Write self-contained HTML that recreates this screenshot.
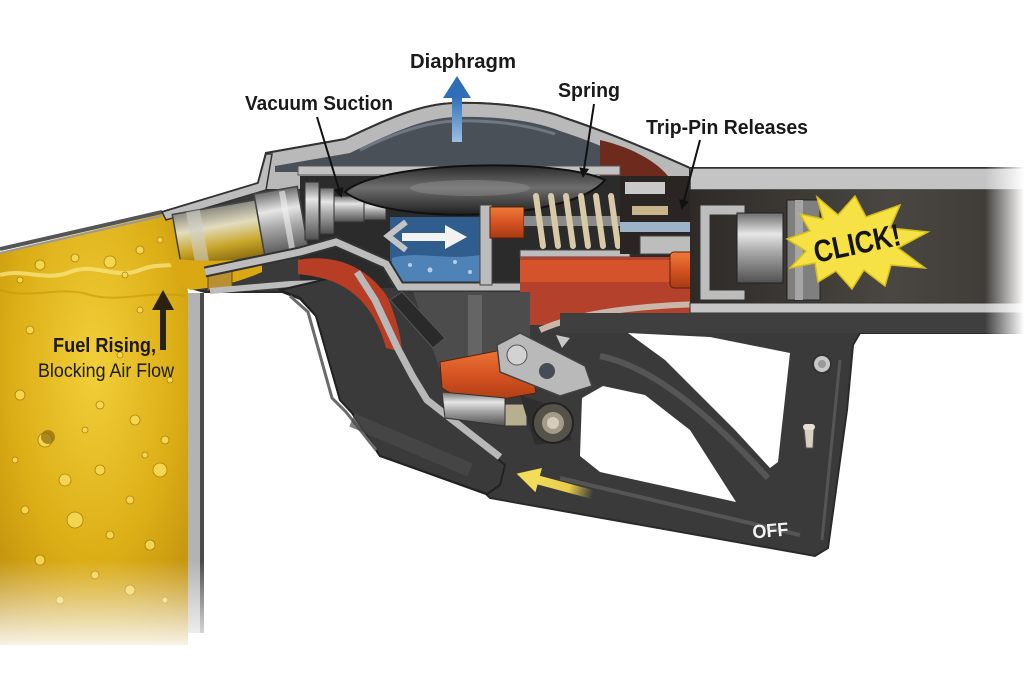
<!DOCTYPE html>
<html><head><meta charset="utf-8">
<style>html,body{margin:0;padding:0;background:#fff;width:1024px;height:683px;overflow:hidden}svg{display:block}</style>
</head><body>
<svg width="1024" height="683" viewBox="0 0 1024 683" xmlns="http://www.w3.org/2000/svg">
<defs>
<radialGradient id="fuelG" cx="0.5" cy="0.35" r="0.8">
<stop offset="0" stop-color="#f2cf3a"/><stop offset="0.55" stop-color="#dcae16"/><stop offset="1" stop-color="#b8880a"/>
</radialGradient>
<linearGradient id="fadeB" x1="0" y1="0" x2="0" y2="1">
<stop offset="0" stop-color="#fff" stop-opacity="0"/><stop offset="1" stop-color="#fff" stop-opacity="1"/>
</linearGradient>
<linearGradient id="fadeR" x1="0" y1="0" x2="1" y2="0">
<stop offset="0" stop-color="#fff" stop-opacity="0"/><stop offset="1" stop-color="#fff" stop-opacity="1"/>
</linearGradient>
<linearGradient id="silverV" x1="0" y1="0" x2="0" y2="1">
<stop offset="0" stop-color="#6d6d6d"/><stop offset="0.3" stop-color="#e6e6e6"/><stop offset="0.55" stop-color="#a9a9a9"/><stop offset="1" stop-color="#505050"/>
</linearGradient>
<linearGradient id="spoutG" x1="0" y1="0" x2="0" y2="1">
<stop offset="0" stop-color="#8a8a80"/><stop offset="0.35" stop-color="#e2dcc0"/><stop offset="0.7" stop-color="#c9a62a"/><stop offset="1" stop-color="#8c6e10"/>
</linearGradient>
<linearGradient id="orangeG" x1="0" y1="0" x2="0" y2="1">
<stop offset="0" stop-color="#f07a3a"/><stop offset="0.5" stop-color="#d65322"/><stop offset="1" stop-color="#a63a14"/>
</linearGradient>
<linearGradient id="blueA" x1="0" y1="0" x2="0" y2="1">
<stop offset="0" stop-color="#2f6fb8"/><stop offset="1" stop-color="#9cc0e2"/>
</linearGradient>
<linearGradient id="diaG" x1="0" y1="0" x2="0" y2="1">
<stop offset="0" stop-color="#2a2a2a"/><stop offset="0.45" stop-color="#6e6e6e"/><stop offset="1" stop-color="#1e1e1e"/>
</linearGradient>
<linearGradient id="yArrow" x1="0" y1="0" x2="1" y2="0">
<stop offset="0" stop-color="#f2dc5a"/><stop offset="0.6" stop-color="#e8cc4a"/><stop offset="1" stop-color="#e8cc4a" stop-opacity="0"/>
</linearGradient>
<linearGradient id="barrelG" x1="0" y1="0" x2="1" y2="0">
<stop offset="0" stop-color="#2e2a27"/><stop offset="0.6" stop-color="#4a4641"/><stop offset="1" stop-color="#3c3935"/>
</linearGradient>
<marker id="ah" markerWidth="10" markerHeight="10" refX="8" refY="5" orient="auto" markerUnits="userSpaceOnUse">
<path d="M0,0 L10,5 L0,10 Z" fill="#111"/>
</marker>
</defs>

<!-- FUEL -->
<path d="M0,252 L162,214 L178,214 L188,292 L188,650 L0,650 Z" fill="url(#fuelG)"/>
<path d="M0,275 C25,268 45,282 70,272 C95,262 115,280 140,270 C160,262 175,268 190,262" stroke="#f7e27a" stroke-width="4" fill="none" opacity="0.8"/>
<path d="M0,290 C30,300 60,285 90,295 C120,303 150,290 185,296" stroke="#c8960c" stroke-width="2" fill="none" opacity="0.6"/>
<g fill="#f6da55" stroke="#a87c08" stroke-width="0.8" opacity="0.9">
<circle cx="40" cy="265" r="5"/><circle cx="75" cy="258" r="4"/><circle cx="110" cy="262" r="6"/><circle cx="140" cy="250" r="4"/><circle cx="160" cy="240" r="3"/><circle cx="125" cy="275" r="3"/><circle cx="20" cy="280" r="3"/>
<circle cx="30" cy="330" r="4"/><circle cx="140" cy="310" r="3"/><circle cx="20" cy="395" r="5"/><circle cx="45" cy="440" r="7"/><circle cx="100" cy="405" r="4"/><circle cx="135" cy="420" r="5"/><circle cx="165" cy="440" r="4"/>
<circle cx="65" cy="480" r="6"/><circle cx="100" cy="470" r="5"/><circle cx="160" cy="470" r="7"/><circle cx="130" cy="500" r="4"/><circle cx="75" cy="520" r="8"/><circle cx="25" cy="510" r="4"/>
<circle cx="110" cy="535" r="4"/><circle cx="150" cy="545" r="5"/><circle cx="40" cy="560" r="5"/><circle cx="95" cy="575" r="4"/><circle cx="130" cy="590" r="5"/><circle cx="60" cy="600" r="4"/><circle cx="165" cy="600" r="3"/>
<circle cx="120" cy="355" r="3"/><circle cx="15" cy="460" r="3"/><circle cx="170" cy="380" r="3"/><circle cx="85" cy="430" r="3"/><circle cx="145" cy="455" r="3"/>
</g>
<circle cx="48" cy="437" r="7" fill="#8a6a08" opacity="0.7"/>
<path d="M0,249 L162,212" stroke="#555" stroke-width="4" fill="none"/>
<path d="M0,253 L162,216" stroke="#999" stroke-width="2" fill="none"/>
<rect x="188" y="293" width="13" height="340" fill="#b3b3b3"/>
<rect x="200" y="293" width="4" height="340" fill="#4a4a4a"/>

<!-- BODY SILHOUETTE -->
<path d="M162,212 L258,183 L266,153 L345,139 C390,118 420,104 455,103 C500,102 540,108 565,118 C610,133 650,150 690,168 L1024,168 L1024,333 L860,333 L853,345 L847,410 L828,548 L815,556 L490,498 L486,494 L380,456 L352,413 L340,400 L316,316 L300,299 L282,292 L205,292 L190,288 L178,214 Z" fill="#3a3a3a" stroke="#2a2a2a" stroke-width="2"/>

<!-- white holes in trigger -->
<path d="M628,333 L710,337 L790,353 L778,462 L770,468 L735,430 L700,395 L665,360 Z" fill="#fff"/>
<path d="M582,398 L603,386 L645,395 L690,430 L736,502 L600,472 L580,456 Z" fill="#fff"/>

<!-- upper hump shell -->
<path d="M258,183 L266,153 L345,139 C390,118 420,104 455,103 C500,102 540,108 565,118 C610,133 650,150 690,168 L690,190 L258,190 Z" fill="#b9b9b9" stroke="#333" stroke-width="2"/>
<path d="M275,166 L350,153 C395,131 425,118 455,117 C500,116 535,121 560,131 C600,144 625,156 650,172 L275,172 Z" fill="#4a5058"/>
<path d="M360,150 C400,130 430,122 455,121 C500,120 530,126 555,134" stroke="#6f7780" stroke-width="3" fill="none"/>
<path d="M600,140 C630,147 655,160 668,176 L600,176 Z" fill="#6e2a1c"/>
<rect x="298" y="166" width="322" height="9" fill="#c2c2c2" stroke="#555" stroke-width="1"/>
<!-- spout-left shell band -->
<path d="M162,212 L258,183 L266,154 L272,154 L266,190 L166,220 Z" fill="#bdbdbd" stroke="#333" stroke-width="1.5"/>

<rect x="300" y="176" width="390" height="112" fill="#2b2b2b"/>

<!-- spout -->
<g transform="rotate(-10 240 230)">
<rect x="176" y="203" width="84" height="56" fill="url(#spoutG)" stroke="#444" stroke-width="1.5"/>
<rect x="190" y="203" width="14" height="56" fill="#cfcfc8" opacity="0.6"/>
<rect x="260" y="197" width="44" height="66" fill="url(#silverV)" stroke="#444" stroke-width="1.5"/>
<rect x="285" y="199" width="6" height="62" fill="#f0f0f0" opacity="0.6"/>
</g>
<path d="M168,258 C200,262 230,262 262,256 L262,272 C240,282 215,288 190,290 L178,282 Z" fill="#d9a812"/>
<rect x="208" y="266" width="24" height="24" fill="#b89030" stroke="#6a5010" stroke-width="1"/>
<rect x="305" y="182" width="14" height="58" fill="url(#silverV)" stroke="#333"/>
<rect x="320" y="188" width="14" height="46" fill="url(#silverV)" stroke="#333"/>
<rect x="334" y="196" width="30" height="26" fill="url(#silverV)" stroke="#333"/>
<rect x="364" y="200" width="22" height="20" fill="url(#silverV)" stroke="#333"/>

<!-- diaphragm -->
<path d="M345,192 C380,160 560,158 605,180 C570,222 390,226 345,192 Z" fill="url(#diaG)" stroke="#111" stroke-width="2"/>
<ellipse cx="470" cy="188" rx="60" ry="8" fill="#999" opacity="0.4"/>

<!-- blue chamber -->
<rect x="390" y="217" width="95" height="66" fill="#2f5e8e"/>
<path d="M392,258 C420,250 450,262 484,254 L484,282 L392,282 Z" fill="#4f82b6"/>
<g fill="#cfe2f4" opacity="0.8"><circle cx="410" cy="265" r="2"/><circle cx="430" cy="270" r="2.5"/><circle cx="455" cy="262" r="2"/><circle cx="470" cy="272" r="2"/></g>
<polyline points="406,222 388,236 406,250" stroke="#c4c4c4" stroke-width="6" fill="none"/>
<rect x="402" y="233" width="46" height="8" fill="#f2f2f2"/>
<path d="M445,225 L467,237 L445,249 Z" fill="#f2f2f2"/>

<!-- walls lower -->
<path d="M205,272 L300,252 L336,242 L386,264 L400,287 L545,287" stroke="#333" stroke-width="11" fill="none"/>
<path d="M205,272 L300,252 L336,242 L386,264 L400,287 L545,287" stroke="#bdbdbd" stroke-width="7" fill="none"/>
<path d="M210,291 L290,284 L355,282 L372,296" stroke="#bdbdbd" stroke-width="6" fill="none"/>
<rect x="480" y="205" width="12" height="80" fill="#bcbcbc" stroke="#444"/>
<rect x="490" y="207" width="34" height="31" fill="url(#orangeG)" stroke="#5a2008"/>
<!-- spring -->
<rect x="524" y="216" width="104" height="10" fill="#8a8a8a"/>
<g stroke="#d8c9a8" stroke-width="6" fill="none" stroke-linecap="round">
<path d="M536,196 L543,246"/><path d="M551,196 L558,246"/><path d="M566,196 L573,246"/><path d="M581,196 L588,246"/><path d="M596,196 L603,246"/><path d="M611,196 L618,246"/>
</g>
<rect x="520" y="250" width="110" height="7" fill="#bdbdbd" stroke="#444"/>
<!-- trip pin area -->
<rect x="620" y="176" width="70" height="78" fill="#2a2422"/>
<rect x="625" y="182" width="40" height="12" fill="#c9c9c9"/>
<rect x="632" y="206" width="36" height="9" fill="#c8b48a"/>
<rect x="620" y="222" width="100" height="10" fill="#9cb3c8"/>
<rect x="640" y="236" width="60" height="18" fill="#bdbdbd" stroke="#444"/>
<!-- red parts -->
<rect x="520" y="257" width="175" height="68" fill="#b3412b"/>
<rect x="520" y="260" width="160" height="22" fill="#d4532a"/>
<rect x="670" y="252" width="25" height="36" rx="4" fill="url(#orangeG)" stroke="#5a2008"/>
<path d="M540,330 C580,312 640,306 700,304" stroke="#c9b7aa" stroke-width="6" fill="none"/>

<!-- barrel -->
<rect x="690" y="168" width="334" height="22" fill="#c4c4c4" stroke="#333" stroke-width="1.5"/>
<rect x="690" y="190" width="334" height="113" fill="url(#barrelG)"/>
<path d="M700,205 L745,205 L745,215 L710,215 L710,290 L745,290 L745,300 L700,300 Z" fill="#bdbdbd" stroke="#333"/>
<rect x="737" y="213" width="46" height="70" fill="url(#silverV)" stroke="#222"/>
<rect x="787" y="200" width="33" height="100" fill="#7f7f7f" stroke="#222"/>
<rect x="795" y="200" width="8" height="100" fill="#a5a5a5"/>
<rect x="690" y="303" width="334" height="10" fill="#c6c6c6" stroke="#333" stroke-width="1"/>
<rect x="560" y="313" width="464" height="20" fill="#3f3f3f"/>

<!-- CLICK starburst -->
<polygon points="817,197 838,215 855,196 866,217 900,205 890,228 928,232 898,248 925,268 891,265 885,286 864,270 852,289 836,271 818,282 815,263 790,268 806,251 787,239 810,231 800,214 823,219" fill="#f6e244" stroke="#d9bd18" stroke-width="1.5"/>
<text x="857" y="254" transform="rotate(-12 857 243)" font-family="Liberation Sans, sans-serif" font-size="31" font-weight="bold" text-anchor="middle" textLength="88" lengthAdjust="spacingAndGlyphs" fill="#151515">CLICK!</text>

<rect x="985" y="160" width="39" height="180" fill="url(#fadeR)"/>

<!-- GRIP -->
<path d="M280,290 L300,298 L316,316 L340,400 L352,413 L380,456 L487,494 L500,485 L505,465 L427,400 L413,377 L397,347 L375,300 L357,272 Z" fill="#3a3a3a" stroke="#222" stroke-width="2"/>
<path d="M290,296 L308,312 L332,398 L346,412 L376,450" stroke="#6a6a6a" stroke-width="3" fill="none"/>
<path d="M352,420 L470,470" stroke="#4a4a4a" stroke-width="14" fill="none" opacity="0.7"/>
<path d="M298,260 C340,252 372,272 388,298 C396,318 401,335 402,352 L386,348 C378,318 362,294 334,282 C318,276 306,275 298,274 Z" fill="#b83d25"/>
<path d="M357,272 L375,300 L397,347 L413,377 L427,400 L500,457" stroke="#b8b8b8" stroke-width="7" fill="none"/>

<!-- mechanism -->
<path d="M413,292 L530,292 L530,370 L440,370 Z" fill="#4c4c4c"/>
<rect x="468" y="295" width="14" height="70" fill="#777" opacity="0.6"/>
<path d="M390,300 L402,292 L445,338 L433,348 Z" fill="#2a2a2a" stroke="#555"/>
<path d="M440,362 L528,345 L536,393 L470,405 L442,388 Z" fill="url(#orangeG)" stroke="#5a2008"/>
<path d="M442,392 L505,398 L505,426 L445,418 Z" fill="url(#silverV)" stroke="#333"/>
<rect x="505" y="404" width="22" height="22" fill="#b8ae90" stroke="#333"/>
<path d="M520,395 L560,408 L572,440 L535,445 Z" fill="#2e2e2e"/>
<path d="M497,345 L520,333 L585,366 L592,386 L560,396 L500,372 Z" fill="#b9b9b9" stroke="#444" stroke-width="1.5"/>
<circle cx="517" cy="355" r="10" fill="#d2d2d2" stroke="#555"/>
<circle cx="547" cy="371" r="8" fill="#464c55"/>
<path d="M556,335 L570,338 L562,348 Z" fill="#c8c8c8"/>
<circle cx="553" cy="423" r="20" fill="#55524a" stroke="#222" stroke-width="2"/>
<circle cx="553" cy="423" r="11" fill="#a49c88"/>
<circle cx="553" cy="423" r="6" fill="#d5cdb8"/>

<!-- trigger highlights -->
<path d="M600,356 C650,366 705,410 768,478" stroke="#555" stroke-width="6" fill="none"/>
<path d="M560,478 L800,535" stroke="#555" stroke-width="4" fill="none"/>
<path d="M840,360 L822,540" stroke="#555" stroke-width="3" fill="none"/>
<circle cx="822" cy="364" r="9" fill="#c8c8c8" stroke="#333" stroke-width="2"/>
<circle cx="822" cy="364" r="4" fill="#999"/>
<path d="M804,428 L814,428 L813,448 L806,448 Z" fill="#d8d0c0" stroke="#555"/>
<rect x="803" y="424" width="12" height="6" rx="3" fill="#e6e0d2"/>
<g transform="rotate(15 555 485)">
<rect x="532" y="480" width="62" height="9" fill="url(#yArrow)"/>
<path d="M515,484 L538,472 L538,497 Z" fill="#f2dc5a"/>
</g>
<text x="752" y="537" transform="rotate(-5 770 527)" font-family="Liberation Sans, sans-serif" font-size="19" font-weight="bold" textLength="36" lengthAdjust="spacingAndGlyphs" fill="#f2f2f2">OFF</text>

<rect x="0" y="560" width="215" height="95" fill="url(#fadeB)"/>
<rect x="0" y="645" width="215" height="40" fill="#fff"/>

<!-- LABELS -->
<text x="410" y="68" font-family="Liberation Sans, sans-serif" font-size="20" font-weight="bold" textLength="106" lengthAdjust="spacingAndGlyphs" fill="#1a1a1a">Diaphragm</text>
<rect x="452" y="96" width="10" height="46" fill="url(#blueA)"/>
<path d="M443,98 L457,76 L471,98 Z" fill="#2f6fb8"/>

<text x="245" y="110" font-family="Liberation Sans, sans-serif" font-size="20" font-weight="bold" textLength="148" lengthAdjust="spacingAndGlyphs" fill="#1a1a1a">Vacuum Suction</text>
<line x1="317" y1="117" x2="341" y2="196" stroke="#111" stroke-width="2" marker-end="url(#ah)"/>

<text x="558" y="97" font-family="Liberation Sans, sans-serif" font-size="20" font-weight="bold" textLength="62" lengthAdjust="spacingAndGlyphs" fill="#1a1a1a">Spring</text>
<line x1="594" y1="104" x2="583" y2="176" stroke="#111" stroke-width="2" marker-end="url(#ah)"/>

<text x="646" y="134" font-family="Liberation Sans, sans-serif" font-size="20" font-weight="bold" textLength="162" lengthAdjust="spacingAndGlyphs" fill="#1a1a1a">Trip-Pin Releases</text>
<line x1="700" y1="140" x2="682" y2="208" stroke="#111" stroke-width="2" marker-end="url(#ah)"/>

<rect x="160" y="306" width="6" height="44" fill="#2a2210"/>
<path d="M152,310 L163,290 L174,310 Z" fill="#2a2210"/>
<text x="53" y="352" font-family="Liberation Sans, sans-serif" font-size="20" font-weight="bold" textLength="103" lengthAdjust="spacingAndGlyphs" fill="#1a1a10">Fuel Rising,</text>
<text x="38" y="377" font-family="Liberation Sans, sans-serif" font-size="19" textLength="136" lengthAdjust="spacingAndGlyphs" fill="#1a1a10">Blocking Air Flow</text>
</svg>
</body></html>
